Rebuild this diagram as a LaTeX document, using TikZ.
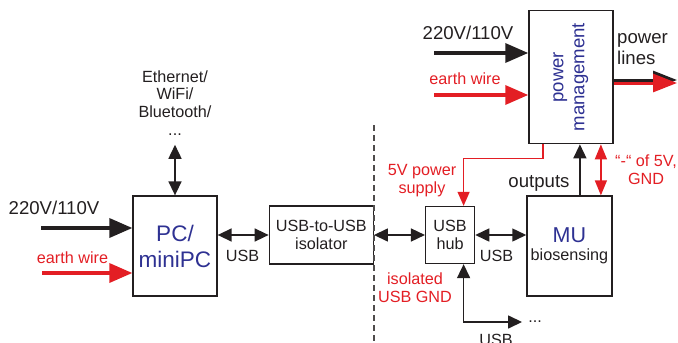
\documentclass[tikz,border=0pt]{standalone}
\usepackage{fontspec}
\setmainfont{Liberation Sans}
\usetikzlibrary{arrows.meta,positioning}

\definecolor{txtgray}{HTML}{231F20}
\definecolor{wirered}{HTML}{E31E24}
\definecolor{nameblue}{HTML}{2E3192}
\newcommand{\lblfont}{\fontsize{18.6}{21}\selectfont}
\newcommand{\smfont}{\fontsize{16.2}{17.8}\selectfont}
\newcommand{\namefont}{\fontsize{22.5}{26}\selectfont}

\begin{document}
\begin{tikzpicture}[x=1pt, y=-1pt,
    box/.style={rectangle, draw=txtgray, line width=1.3pt, inner sep=0pt, align=center, text=txtgray, font=\smfont},
    sig/.style={{Triangle[length=14pt,width=13pt]}-{Triangle[length=14pt,width=13pt]}, line width=1.5pt, draw=txtgray},
    one/.style={-{Triangle[length=14pt,width=13pt]}, line width=1.5pt, draw=txtgray},
    supply/.style={-{Triangle[length=14pt,width=12pt]}, line width=1.3pt, draw=wirered},
    gndsig/.style={{Triangle[length=15pt,width=12pt]}-{Triangle[length=15pt,width=12pt]}, line width=1.5pt, draw=wirered},
    mains/.style={-{Triangle[length=23pt,width=19pt]}, line width=3.5pt, draw=txtgray},
    earth/.style={mains, draw=wirered},
    lbl/.style={text=txtgray, font=\lblfont, align=center, inner sep=0pt},
    smlbl/.style={text=txtgray, font=\smfont, align=center, inner sep=0pt},
    rlbl/.style={text=wirered, font=\smfont, align=center, inner sep=0pt}
]
    \useasboundingbox (0,0) rectangle (678,343);

    % Boxes
    \node[box, minimum width=84pt, minimum height=100pt, font=\namefont, text=nameblue] (pc) at (175,246) {PC/\\miniPC};
    \node[box, minimum width=104pt, minimum height=58pt, right=51pt of pc, yshift=11pt] (iso) {USB-to-USB\\isolator};
    \node[box, minimum width=49pt, minimum height=57pt, right=51pt of iso] (hub) {USB\\hub};
    \node[box, minimum width=85pt, minimum height=100pt, right=51pt of hub, yshift=-11pt] (mu) {{\color{nameblue}\fontsize{21.5}{22}\selectfont MU}\\biosensing};
    \node[box, minimum width=84pt, minimum height=133pt, above=51pt of mu, xshift=1.5pt] (pm) {};
    \node[lbl, text=nameblue, rotate=90] (pmtxt) at (pm.center) {power\\management};

    % Isolation border
    \draw[txtgray!80, line width=1.3pt, dash pattern=on 6pt off 4pt] (374,125) -- (374,343);

    % Labels
    \node[smlbl] (eth) at (175,103) {Ethernet/\\WiFi/\\Bluetooth/\\...};
    \node[lbl] (acpctxt) at (54,207.5) {220V/110V};
    \node[rlbl] (gndpctxt) at (72.5,258) {earth wire};
    \node[smlbl] (usbiso) at (242.5,256) {USB};
    \node[smlbl] (usbmu) at (496.5,256) {USB};
    \node[smlbl] (usbout) at (496,340) {USB};
    \node[smlbl] (more) at (535,322) {...};
    \node[rlbl] (fivev) at (422,181) {5V power\\supply};
    \node[rlbl] (isognd) at (415,287.5) {isolated\\USB GND};
    \node[lbl] (outtxt) at (539,183) {outputs};
    \node[rlbl] (minus) at (646,169.5) {“-“ of 5V,\\GND};
    \node[lbl] (acpmtxt) at (468,32.5) {220V/110V};
    \node[rlbl] (gndpmtxt) at (465,79) {earth wire};
    \node[lbl, align=left, anchor=west] (pltxt) at (617,49) {power\\lines};

    % Free ends
    \coordinate (acpc) at (41,228);
    \coordinate (gndpc) at (42,273);
    \coordinate (acpm) at (434,53);
    \coordinate (gndpm) at (434,95);
    \coordinate (plk) at (677,80);
    \coordinate (plr) at (677,83);
    \coordinate (hubt) at ([xshift=13.5pt]hub.north);
    \coordinate (hubb) at ([xshift=13.5pt]hub.south);
    \coordinate (pmo) at ([xshift=-28pt]pm.south);
    \coordinate (muo) at ([xshift=10.5pt]mu.north);
    \coordinate (mug) at ([xshift=31.5pt]mu.north);

    % Mains
    \draw[mains] (acpc) -- (acpc -| pc.west);
    \draw[earth] (gndpc) -- (gndpc -| pc.west);
    \draw[mains] (acpm) -- (acpm -| pm.west);
    \draw[earth] (gndpm) -- (gndpm -| pm.west);
    \draw[mains, line width=3pt, -{Triangle[length=24pt,width=18pt]}] (plk -| pm.east) -- (plk);
    \draw[earth, line width=3pt, -{Triangle[length=24pt,width=18pt]}] (plr -| pm.east) -- (plr);

    % Data
    \draw[sig] ([yshift=-9pt]eth.south) -- (pc.north);
    \draw[sig] (iso.west -| pc.east) -- (iso.west);
    \draw[sig] (iso.east) -- (hub.west);
    \draw[sig] (hub.east) -- (hub.east -| mu.west);
    \draw[sig] (hubb) |- ([xshift=-6pt]more.west);
    \draw[one] (muo) -- (muo |- pm.south);

    % Supply
    \draw[supply] (pmo) -- ++(0,14) -| (hubt);
    \draw[gndsig] (mug) -- (mug |- pm.south);
\end{tikzpicture}
\end{document}
